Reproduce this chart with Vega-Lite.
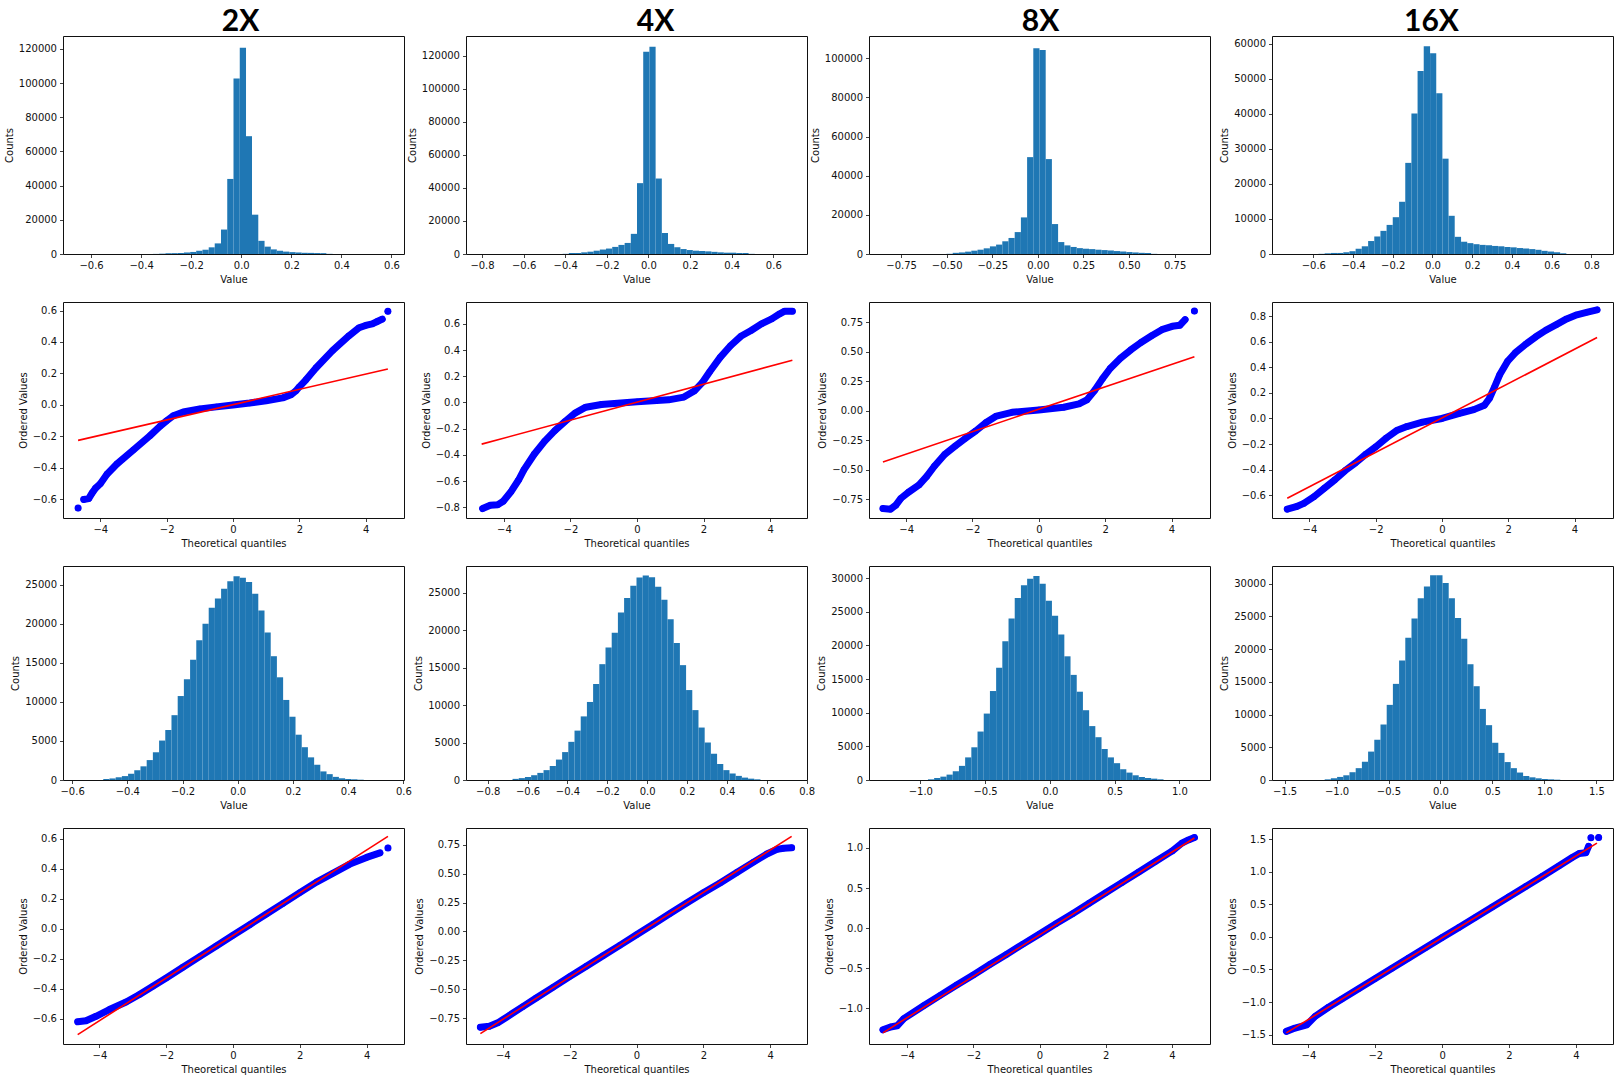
{
  "$schema": "https://vega.github.io/schema/vega-lite/v6.json",
  "background": "white",
  "padding": {"left": 3, "top": 6, "right": 5, "bottom": 5},
  "bounds": "flush",
  "columns": 4,
  "spacing": {"row": 48, "column": 62},
  "concat": [
    {"width": 341, "height": 218, "title": {"text": "2X", "dx": 7}, "data": {"name": "h1"},
     "mark": {"type": "rect", "color": "#1f77b4"},
     "encoding": {
       "x": {"field": "lo", "type": "quantitative", "scale": {"domain": [-0.712, 0.65], "nice": false, "zero": false}, "axis": {"title": "Value", "values": [-0.6, -0.4, -0.2, 0, 0.2, 0.4, 0.6], "format": ".1f"}},
       "x2": {"field": "hi"},
       "y": {"field": "n", "type": "quantitative", "scale": {"domain": [0, 127500], "nice": false}, "axis": {"title": "Counts", "values": [0, 20000, 40000, 60000, 80000, 100000, 120000], "format": "d"}},
       "y2": {"datum": 0}}},
    {"width": 341, "height": 218, "title": {"text": "4X", "dx": 19}, "data": {"name": "h2"},
     "mark": {"type": "rect", "color": "#1f77b4"},
     "encoding": {
       "x": {"field": "lo", "type": "quantitative", "scale": {"domain": [-0.877, 0.762], "nice": false, "zero": false}, "axis": {"title": "Value", "values": [-0.8, -0.6, -0.4, -0.2, 0, 0.2, 0.4, 0.6], "format": ".1f"}},
       "x2": {"field": "hi"},
       "y": {"field": "n", "type": "quantitative", "scale": {"domain": [0, 132000], "nice": false}, "axis": {"title": "Counts", "values": [0, 20000, 40000, 60000, 80000, 100000, 120000], "format": "d"}},
       "y2": {"datum": 0}}},
    {"width": 341, "height": 218, "title": {"text": "8X", "dx": 1}, "data": {"name": "h3"},
     "mark": {"type": "rect", "color": "#1f77b4"},
     "encoding": {
       "x": {"field": "lo", "type": "quantitative", "scale": {"domain": [-0.926, 0.944], "nice": false, "zero": false}, "axis": {"title": "Value", "values": [-0.75, -0.5, -0.25, 0, 0.25, 0.5, 0.75], "format": ".2f"}},
       "x2": {"field": "hi"},
       "y": {"field": "n", "type": "quantitative", "scale": {"domain": [0, 111400], "nice": false}, "axis": {"title": "Counts", "values": [0, 20000, 40000, 60000, 80000, 100000], "format": "d"}},
       "y2": {"datum": 0}}},
    {"width": 341, "height": 218, "title": {"text": "16X", "dx": -11}, "data": {"name": "h4"},
     "mark": {"type": "rect", "color": "#1f77b4"},
     "encoding": {
       "x": {"field": "lo", "type": "quantitative", "scale": {"domain": [-0.808, 0.909], "nice": false, "zero": false}, "axis": {"title": "Value", "values": [-0.6, -0.4, -0.2, 0, 0.2, 0.4, 0.6, 0.8], "format": ".1f"}},
       "x2": {"field": "hi"},
       "y": {"field": "n", "type": "quantitative", "scale": {"domain": [0, 62200], "nice": false}, "axis": {"title": "Counts", "values": [0, 10000, 20000, 30000, 40000, 50000, 60000], "format": "d"}},
       "y2": {"datum": 0}}},

    {"width": 341, "height": 216,
     "encoding": {
       "x": {"field": "tq", "type": "quantitative", "scale": {"domain": [-5.125, 5.156], "nice": false, "zero": false}, "axis": {"title": "Theoretical quantiles", "values": [-4, -2, 0, 2, 4], "format": "d"}},
       "y": {"field": "ov", "type": "quantitative", "scale": {"domain": [-0.718, 0.654], "nice": false, "zero": false}, "axis": {"title": "Ordered Values", "values": [-0.6, -0.4, -0.2, 0, 0.2, 0.4, 0.6], "format": ".1f"}}},
     "layer": [
       {"data": {"name": "q1"}, "mark": {"type": "line", "color": "#0000ff", "strokeWidth": 7, "strokeCap": "round", "strokeJoin": "round"}, "encoding": {"detail": {"field": "g", "type": "nominal"}}},
       {"data": {"name": "q1"}, "mark": {"type": "circle", "color": "#0000ff", "size": 40, "opacity": 1}, "encoding": {}},
       {"data": {"name": "f1"}, "mark": {"type": "line", "color": "#ff0000", "strokeWidth": 1.6}, "encoding": {}}
     ]},
    {"width": 341, "height": 216,
     "encoding": {
       "x": {"field": "tq", "type": "quantitative", "scale": {"domain": [-5.14, 5.11], "nice": false, "zero": false}, "axis": {"title": "Theoretical quantiles", "values": [-4, -2, 0, 2, 4], "format": "d"}},
       "y": {"field": "ov", "type": "quantitative", "scale": {"domain": [-0.882, 0.767], "nice": false, "zero": false}, "axis": {"title": "Ordered Values", "values": [-0.8, -0.6, -0.4, -0.2, 0, 0.2, 0.4, 0.6], "format": ".1f"}}},
     "layer": [
       {"data": {"name": "q2"}, "mark": {"type": "line", "color": "#0000ff", "strokeWidth": 7, "strokeCap": "round", "strokeJoin": "round"}, "encoding": {"detail": {"field": "g", "type": "nominal"}}},
       {"data": {"name": "q2"}, "mark": {"type": "circle", "color": "#0000ff", "size": 40, "opacity": 1}, "encoding": {}},
       {"data": {"name": "f2"}, "mark": {"type": "line", "color": "#ff0000", "strokeWidth": 1.6}, "encoding": {}}
     ]},
    {"width": 341, "height": 216,
     "encoding": {
       "x": {"field": "tq", "type": "quantitative", "scale": {"domain": [-5.12, 5.16], "nice": false, "zero": false}, "axis": {"title": "Theoretical quantiles", "values": [-4, -2, 0, 2, 4], "format": "d"}},
       "y": {"field": "ov", "type": "quantitative", "scale": {"domain": [-0.909, 0.92], "nice": false, "zero": false}, "axis": {"title": "Ordered Values", "values": [-0.75, -0.5, -0.25, 0, 0.25, 0.5, 0.75], "format": ".2f"}}},
     "layer": [
       {"data": {"name": "q3"}, "mark": {"type": "line", "color": "#0000ff", "strokeWidth": 7, "strokeCap": "round", "strokeJoin": "round"}, "encoding": {"detail": {"field": "g", "type": "nominal"}}},
       {"data": {"name": "q3"}, "mark": {"type": "circle", "color": "#0000ff", "size": 40, "opacity": 1}, "encoding": {}},
       {"data": {"name": "f3"}, "mark": {"type": "line", "color": "#ff0000", "strokeWidth": 1.6}, "encoding": {}}
     ]},
    {"width": 341, "height": 216,
     "encoding": {
       "x": {"field": "tq", "type": "quantitative", "scale": {"domain": [-5.13, 5.16], "nice": false, "zero": false}, "axis": {"title": "Theoretical quantiles", "values": [-4, -2, 0, 2, 4], "format": "d"}},
       "y": {"field": "ov", "type": "quantitative", "scale": {"domain": [-0.778, 0.91], "nice": false, "zero": false}, "axis": {"title": "Ordered Values", "values": [-0.6, -0.4, -0.2, 0, 0.2, 0.4, 0.6, 0.8], "format": ".1f"}}},
     "layer": [
       {"data": {"name": "q4"}, "mark": {"type": "line", "color": "#0000ff", "strokeWidth": 7, "strokeCap": "round", "strokeJoin": "round"}, "encoding": {"detail": {"field": "g", "type": "nominal"}}},
       {"data": {"name": "q4"}, "mark": {"type": "circle", "color": "#0000ff", "size": 40, "opacity": 1}, "encoding": {}},
       {"data": {"name": "f4"}, "mark": {"type": "line", "color": "#ff0000", "strokeWidth": 1.6}, "encoding": {}}
     ]},

    {"width": 341, "height": 214, "data": {"name": "h5"},
     "mark": {"type": "rect", "color": "#1f77b4"},
     "encoding": {
       "x": {"field": "lo", "type": "quantitative", "scale": {"domain": [-0.633, 0.602], "nice": false, "zero": false}, "axis": {"title": "Value", "values": [-0.6, -0.4, -0.2, 0, 0.2, 0.4, 0.6], "format": ".1f"}},
       "x2": {"field": "hi"},
       "y": {"field": "n", "type": "quantitative", "scale": {"domain": [0, 27400], "nice": false}, "axis": {"title": "Counts", "values": [0, 5000, 10000, 15000, 20000, 25000], "format": "d"}},
       "y2": {"datum": 0}}},
    {"width": 341, "height": 214, "data": {"name": "h6"},
     "mark": {"type": "rect", "color": "#1f77b4"},
     "encoding": {
       "x": {"field": "lo", "type": "quantitative", "scale": {"domain": [-0.909, 0.802], "nice": false, "zero": false}, "axis": {"title": "Value", "values": [-0.8, -0.6, -0.4, -0.2, 0, 0.2, 0.4, 0.6, 0.8], "format": ".1f"}},
       "x2": {"field": "hi"},
       "y": {"field": "n", "type": "quantitative", "scale": {"domain": [0, 28600], "nice": false}, "axis": {"title": "Counts", "values": [0, 5000, 10000, 15000, 20000, 25000], "format": "d"}},
       "y2": {"datum": 0}}},
    {"width": 341, "height": 214, "data": {"name": "h7"},
     "mark": {"type": "rect", "color": "#1f77b4"},
     "encoding": {
       "x": {"field": "lo", "type": "quantitative", "scale": {"domain": [-1.396, 1.236], "nice": false, "zero": false}, "axis": {"title": "Value", "values": [-1, -0.5, 0, 0.5, 1], "format": ".1f"}},
       "x2": {"field": "hi"},
       "y": {"field": "n", "type": "quantitative", "scale": {"domain": [0, 31800], "nice": false}, "axis": {"title": "Counts", "values": [0, 5000, 10000, 15000, 20000, 25000, 30000], "format": "d"}},
       "y2": {"datum": 0}}},
    {"width": 341, "height": 214, "data": {"name": "h8"},
     "mark": {"type": "rect", "color": "#1f77b4"},
     "encoding": {
       "x": {"field": "lo", "type": "quantitative", "scale": {"domain": [-1.621, 1.66], "nice": false, "zero": false}, "axis": {"title": "Value", "values": [-1.5, -1, -0.5, 0, 0.5, 1, 1.5], "format": ".1f"}},
       "x2": {"field": "hi"},
       "y": {"field": "n", "type": "quantitative", "scale": {"domain": [0, 32700], "nice": false}, "axis": {"title": "Counts", "values": [0, 5000, 10000, 15000, 20000, 25000, 30000], "format": "d"}},
       "y2": {"datum": 0}}},

    {"width": 341, "height": 216,
     "encoding": {
       "x": {"field": "tq", "type": "quantitative", "scale": {"domain": [-5.09, 5.12], "nice": false, "zero": false}, "axis": {"title": "Theoretical quantiles", "values": [-4, -2, 0, 2, 4], "format": "d"}},
       "y": {"field": "ov", "type": "quantitative", "scale": {"domain": [-0.77, 0.671], "nice": false, "zero": false}, "axis": {"title": "Ordered Values", "values": [-0.6, -0.4, -0.2, 0, 0.2, 0.4, 0.6], "format": ".1f"}}},
     "layer": [
       {"data": {"name": "q5"}, "mark": {"type": "line", "color": "#0000ff", "strokeWidth": 7, "strokeCap": "round", "strokeJoin": "round"}, "encoding": {"detail": {"field": "g", "type": "nominal"}}},
       {"data": {"name": "q5"}, "mark": {"type": "circle", "color": "#0000ff", "size": 40, "opacity": 1}, "encoding": {}},
       {"data": {"name": "f5"}, "mark": {"type": "line", "color": "#ff0000", "strokeWidth": 1.6}, "encoding": {}}
     ]},
    {"width": 341, "height": 216,
     "encoding": {
       "x": {"field": "tq", "type": "quantitative", "scale": {"domain": [-5.1, 5.1], "nice": false, "zero": false}, "axis": {"title": "Theoretical quantiles", "values": [-4, -2, 0, 2, 4], "format": "d"}},
       "y": {"field": "ov", "type": "quantitative", "scale": {"domain": [-0.973, 0.895], "nice": false, "zero": false}, "axis": {"title": "Ordered Values", "values": [-0.75, -0.5, -0.25, 0, 0.25, 0.5, 0.75], "format": ".2f"}}},
     "layer": [
       {"data": {"name": "q6"}, "mark": {"type": "line", "color": "#0000ff", "strokeWidth": 7, "strokeCap": "round", "strokeJoin": "round"}, "encoding": {"detail": {"field": "g", "type": "nominal"}}},
       {"data": {"name": "q6"}, "mark": {"type": "circle", "color": "#0000ff", "size": 40, "opacity": 1}, "encoding": {}},
       {"data": {"name": "f6"}, "mark": {"type": "line", "color": "#ff0000", "strokeWidth": 1.6}, "encoding": {}}
     ]},
    {"width": 341, "height": 216,
     "encoding": {
       "x": {"field": "tq", "type": "quantitative", "scale": {"domain": [-5.15, 5.15], "nice": false, "zero": false}, "axis": {"title": "Theoretical quantiles", "values": [-4, -2, 0, 2, 4], "format": "d"}},
       "y": {"field": "ov", "type": "quantitative", "scale": {"domain": [-1.447, 1.249], "nice": false, "zero": false}, "axis": {"title": "Ordered Values", "values": [-1, -0.5, 0, 0.5, 1], "format": ".1f"}}},
     "layer": [
       {"data": {"name": "q7"}, "mark": {"type": "line", "color": "#0000ff", "strokeWidth": 7, "strokeCap": "round", "strokeJoin": "round"}, "encoding": {"detail": {"field": "g", "type": "nominal"}}},
       {"data": {"name": "q7"}, "mark": {"type": "circle", "color": "#0000ff", "size": 40, "opacity": 1}, "encoding": {}},
       {"data": {"name": "f7"}, "mark": {"type": "line", "color": "#ff0000", "strokeWidth": 1.6}, "encoding": {}}
     ]},
    {"width": 341, "height": 216,
     "encoding": {
       "x": {"field": "tq", "type": "quantitative", "scale": {"domain": [-5.09, 5.11], "nice": false, "zero": false}, "axis": {"title": "Theoretical quantiles", "values": [-4, -2, 0, 2, 4], "format": "d"}},
       "y": {"field": "ov", "type": "quantitative", "scale": {"domain": [-1.644, 1.67], "nice": false, "zero": false}, "axis": {"title": "Ordered Values", "values": [-1.5, -1, -0.5, 0, 0.5, 1, 1.5], "format": ".1f"}}},
     "layer": [
       {"data": {"name": "q8"}, "mark": {"type": "line", "color": "#0000ff", "strokeWidth": 7, "strokeCap": "round", "strokeJoin": "round"}, "encoding": {"detail": {"field": "g", "type": "nominal"}}},
       {"data": {"name": "q8"}, "mark": {"type": "circle", "color": "#0000ff", "size": 40, "opacity": 1}, "encoding": {}},
       {"data": {"name": "f8"}, "mark": {"type": "line", "color": "#ff0000", "strokeWidth": 1.6}, "encoding": {}}
     ]}
  ],
  "datasets": {
    "h1": [
      {"lo": -0.353, "hi": -0.328, "n": 60}, {"lo": -0.328, "hi": -0.303, "n": 200}, {"lo": -0.303, "hi": -0.279, "n": 450},
      {"lo": -0.279, "hi": -0.254, "n": 500}, {"lo": -0.254, "hi": -0.229, "n": 600}, {"lo": -0.229, "hi": -0.204, "n": 900},
      {"lo": -0.204, "hi": -0.18, "n": 1200}, {"lo": -0.18, "hi": -0.155, "n": 1900}, {"lo": -0.155, "hi": -0.13, "n": 2500},
      {"lo": -0.13, "hi": -0.106, "n": 3900}, {"lo": -0.106, "hi": -0.081, "n": 6200}, {"lo": -0.081, "hi": -0.056, "n": 14300},
      {"lo": -0.056, "hi": -0.031, "n": 43900}, {"lo": -0.031, "hi": -0.006, "n": 102600}, {"lo": -0.006, "hi": 0.019, "n": 120700},
      {"lo": 0.019, "hi": 0.043, "n": 68900}, {"lo": 0.043, "hi": 0.068, "n": 23000}, {"lo": 0.068, "hi": 0.093, "n": 7700},
      {"lo": 0.093, "hi": 0.118, "n": 4300}, {"lo": 0.118, "hi": 0.142, "n": 2700}, {"lo": 0.142, "hi": 0.167, "n": 1900},
      {"lo": 0.167, "hi": 0.192, "n": 1400}, {"lo": 0.192, "hi": 0.217, "n": 1100}, {"lo": 0.217, "hi": 0.241, "n": 900},
      {"lo": 0.241, "hi": 0.266, "n": 700}, {"lo": 0.266, "hi": 0.291, "n": 650}, {"lo": 0.291, "hi": 0.316, "n": 550},
      {"lo": 0.316, "hi": 0.34, "n": 500}, {"lo": 0.34, "hi": 0.365, "n": 100}
    ],
    "h2": [
      {"lo": -0.4126, "hi": -0.3828, "n": 100}, {"lo": -0.3828, "hi": -0.353, "n": 600}, {"lo": -0.353, "hi": -0.3232, "n": 600},
      {"lo": -0.3232, "hi": -0.2934, "n": 1000}, {"lo": -0.2934, "hi": -0.2636, "n": 1400}, {"lo": -0.2636, "hi": -0.2338, "n": 2000},
      {"lo": -0.2338, "hi": -0.204, "n": 2700}, {"lo": -0.204, "hi": -0.1742, "n": 3300}, {"lo": -0.1742, "hi": -0.1444, "n": 4300},
      {"lo": -0.1444, "hi": -0.1146, "n": 5500}, {"lo": -0.1146, "hi": -0.0848, "n": 6700}, {"lo": -0.0848, "hi": -0.055, "n": 12200},
      {"lo": -0.055, "hi": -0.0252, "n": 42900}, {"lo": -0.0252, "hi": 0.0046, "n": 122400}, {"lo": 0.0046, "hi": 0.0344, "n": 125500},
      {"lo": 0.0344, "hi": 0.0642, "n": 45700}, {"lo": 0.0642, "hi": 0.094, "n": 12700}, {"lo": 0.094, "hi": 0.1238, "n": 6100},
      {"lo": 0.1238, "hi": 0.1536, "n": 4100}, {"lo": 0.1536, "hi": 0.1834, "n": 3000}, {"lo": 0.1834, "hi": 0.2132, "n": 2400},
      {"lo": 0.2132, "hi": 0.243, "n": 2000}, {"lo": 0.243, "hi": 0.2728, "n": 1800}, {"lo": 0.2728, "hi": 0.3026, "n": 1600},
      {"lo": 0.3026, "hi": 0.3324, "n": 1300}, {"lo": 0.3324, "hi": 0.3622, "n": 1000}, {"lo": 0.3622, "hi": 0.392, "n": 800},
      {"lo": 0.392, "hi": 0.4218, "n": 800}, {"lo": 0.4218, "hi": 0.4516, "n": 600}, {"lo": 0.4516, "hi": 0.4814, "n": 600},
      {"lo": 0.4814, "hi": 0.5112, "n": 100}
    ],
    "h3": [
      {"lo": -0.501, "hi": -0.467, "n": 100}, {"lo": -0.467, "hi": -0.433, "n": 600}, {"lo": -0.433, "hi": -0.399, "n": 800},
      {"lo": -0.399, "hi": -0.365, "n": 1200}, {"lo": -0.365, "hi": -0.331, "n": 1700}, {"lo": -0.331, "hi": -0.297, "n": 2200},
      {"lo": -0.297, "hi": -0.263, "n": 2900}, {"lo": -0.263, "hi": -0.229, "n": 3900}, {"lo": -0.229, "hi": -0.195, "n": 4800},
      {"lo": -0.195, "hi": -0.161, "n": 6500}, {"lo": -0.161, "hi": -0.127, "n": 8200}, {"lo": -0.127, "hi": -0.093, "n": 11200},
      {"lo": -0.093, "hi": -0.059, "n": 18700}, {"lo": -0.059, "hi": -0.025, "n": 49500}, {"lo": -0.025, "hi": 0.009, "n": 105100},
      {"lo": 0.009, "hi": 0.043, "n": 104300}, {"lo": 0.043, "hi": 0.077, "n": 48500}, {"lo": 0.077, "hi": 0.111, "n": 15300},
      {"lo": 0.111, "hi": 0.145, "n": 6100}, {"lo": 0.145, "hi": 0.179, "n": 4400}, {"lo": 0.179, "hi": 0.213, "n": 3600},
      {"lo": 0.213, "hi": 0.247, "n": 3000}, {"lo": 0.247, "hi": 0.281, "n": 2700}, {"lo": 0.281, "hi": 0.315, "n": 2500},
      {"lo": 0.315, "hi": 0.349, "n": 2200}, {"lo": 0.349, "hi": 0.383, "n": 2000}, {"lo": 0.383, "hi": 0.417, "n": 1800},
      {"lo": 0.417, "hi": 0.451, "n": 1500}, {"lo": 0.451, "hi": 0.485, "n": 1300}, {"lo": 0.485, "hi": 0.519, "n": 1000},
      {"lo": 0.519, "hi": 0.553, "n": 800}, {"lo": 0.553, "hi": 0.587, "n": 600}, {"lo": 0.587, "hi": 0.621, "n": 500},
      {"lo": 0.621, "hi": 0.655, "n": 80}
    ],
    "h4": [
      {"lo": -0.574, "hi": -0.543, "n": 50}, {"lo": -0.543, "hi": -0.512, "n": 200}, {"lo": -0.512, "hi": -0.48, "n": 300},
      {"lo": -0.48, "hi": -0.449, "n": 300}, {"lo": -0.449, "hi": -0.418, "n": 500}, {"lo": -0.418, "hi": -0.387, "n": 800},
      {"lo": -0.387, "hi": -0.356, "n": 1500}, {"lo": -0.356, "hi": -0.324, "n": 2200}, {"lo": -0.324, "hi": -0.293, "n": 3700},
      {"lo": -0.293, "hi": -0.262, "n": 5000}, {"lo": -0.262, "hi": -0.231, "n": 6600}, {"lo": -0.231, "hi": -0.2, "n": 8300},
      {"lo": -0.2, "hi": -0.168, "n": 10500}, {"lo": -0.168, "hi": -0.137, "n": 14900}, {"lo": -0.137, "hi": -0.106, "n": 26000},
      {"lo": -0.106, "hi": -0.075, "n": 40100}, {"lo": -0.075, "hi": -0.044, "n": 52200}, {"lo": -0.044, "hi": -0.012, "n": 59300},
      {"lo": -0.012, "hi": 0.019, "n": 57300}, {"lo": 0.019, "hi": 0.05, "n": 45900}, {"lo": 0.05, "hi": 0.081, "n": 27200},
      {"lo": 0.081, "hi": 0.112, "n": 10900}, {"lo": 0.112, "hi": 0.144, "n": 4900}, {"lo": 0.144, "hi": 0.175, "n": 3500},
      {"lo": 0.175, "hi": 0.206, "n": 3100}, {"lo": 0.206, "hi": 0.237, "n": 2800}, {"lo": 0.237, "hi": 0.268, "n": 2600},
      {"lo": 0.268, "hi": 0.3, "n": 2500}, {"lo": 0.3, "hi": 0.331, "n": 2300}, {"lo": 0.331, "hi": 0.362, "n": 2200},
      {"lo": 0.362, "hi": 0.393, "n": 2000}, {"lo": 0.393, "hi": 0.424, "n": 1900}, {"lo": 0.424, "hi": 0.456, "n": 1700},
      {"lo": 0.456, "hi": 0.487, "n": 1600}, {"lo": 0.487, "hi": 0.518, "n": 1400}, {"lo": 0.518, "hi": 0.549, "n": 1200},
      {"lo": 0.549, "hi": 0.58, "n": 900}, {"lo": 0.58, "hi": 0.612, "n": 700}, {"lo": 0.612, "hi": 0.643, "n": 500},
      {"lo": 0.643, "hi": 0.674, "n": 200}
    ],
    "h5": [
      {"lo": -0.4872, "hi": -0.4647, "n": 130}, {"lo": -0.4647, "hi": -0.4422, "n": 200}, {"lo": -0.4422, "hi": -0.4198, "n": 350},
      {"lo": -0.4198, "hi": -0.3973, "n": 500}, {"lo": -0.3973, "hi": -0.3749, "n": 800}, {"lo": -0.3749, "hi": -0.3524, "n": 1250},
      {"lo": -0.3524, "hi": -0.3299, "n": 1750}, {"lo": -0.3299, "hi": -0.3075, "n": 2550}, {"lo": -0.3075, "hi": -0.285, "n": 3550},
      {"lo": -0.285, "hi": -0.2626, "n": 5050}, {"lo": -0.2626, "hi": -0.2401, "n": 6400}, {"lo": -0.2401, "hi": -0.2176, "n": 8300},
      {"lo": -0.2176, "hi": -0.1952, "n": 10750}, {"lo": -0.1952, "hi": -0.1727, "n": 12900}, {"lo": -0.1727, "hi": -0.1503, "n": 15400},
      {"lo": -0.1503, "hi": -0.1278, "n": 17900}, {"lo": -0.1278, "hi": -0.1053, "n": 20000}, {"lo": -0.1053, "hi": -0.0829, "n": 22050},
      {"lo": -0.0829, "hi": -0.0604, "n": 23250}, {"lo": -0.0604, "hi": -0.038, "n": 24500}, {"lo": -0.038, "hi": -0.0155, "n": 25450},
      {"lo": -0.0155, "hi": 0.007, "n": 26100}, {"lo": 0.007, "hi": 0.0294, "n": 25900}, {"lo": 0.0294, "hi": 0.0519, "n": 25350},
      {"lo": 0.0519, "hi": 0.0743, "n": 23850}, {"lo": 0.0743, "hi": 0.0968, "n": 21700}, {"lo": 0.0968, "hi": 0.1193, "n": 18900},
      {"lo": 0.1193, "hi": 0.1417, "n": 15850}, {"lo": 0.1417, "hi": 0.1642, "n": 13150}, {"lo": 0.1642, "hi": 0.1866, "n": 10250},
      {"lo": 0.1866, "hi": 0.2091, "n": 8100}, {"lo": 0.2091, "hi": 0.2316, "n": 5800}, {"lo": 0.2316, "hi": 0.254, "n": 4200},
      {"lo": 0.254, "hi": 0.2765, "n": 2900}, {"lo": 0.2765, "hi": 0.2989, "n": 1950}, {"lo": 0.2989, "hi": 0.3214, "n": 1100},
      {"lo": 0.3214, "hi": 0.3439, "n": 750}, {"lo": 0.3439, "hi": 0.3663, "n": 400}, {"lo": 0.3663, "hi": 0.3888, "n": 220},
      {"lo": 0.3888, "hi": 0.4112, "n": 130}, {"lo": 0.4112, "hi": 0.4337, "n": 90}, {"lo": 0.4337, "hi": 0.4561, "n": 40}
    ],
    "h6": [
      {"lo": -0.6755, "hi": -0.6444, "n": 150}, {"lo": -0.6444, "hi": -0.6133, "n": 250}, {"lo": -0.6133, "hi": -0.5822, "n": 400},
      {"lo": -0.5822, "hi": -0.5511, "n": 640}, {"lo": -0.5511, "hi": -0.52, "n": 950}, {"lo": -0.52, "hi": -0.4889, "n": 1320},
      {"lo": -0.4889, "hi": -0.4578, "n": 1870}, {"lo": -0.4578, "hi": -0.4267, "n": 2730}, {"lo": -0.4267, "hi": -0.3956, "n": 3730},
      {"lo": -0.3956, "hi": -0.3645, "n": 5100}, {"lo": -0.3645, "hi": -0.3334, "n": 6600}, {"lo": -0.3334, "hi": -0.3023, "n": 8500},
      {"lo": -0.3023, "hi": -0.2712, "n": 10430}, {"lo": -0.2712, "hi": -0.2401, "n": 12840}, {"lo": -0.2401, "hi": -0.209, "n": 15480},
      {"lo": -0.209, "hi": -0.1779, "n": 17710}, {"lo": -0.1779, "hi": -0.1468, "n": 19670}, {"lo": -0.1468, "hi": -0.1157, "n": 22400},
      {"lo": -0.1157, "hi": -0.0846, "n": 24320}, {"lo": -0.0846, "hi": -0.0535, "n": 25960}, {"lo": -0.0535, "hi": -0.0224, "n": 27050},
      {"lo": -0.0224, "hi": 0.0087, "n": 27320}, {"lo": 0.0087, "hi": 0.0398, "n": 27100}, {"lo": 0.0398, "hi": 0.0709, "n": 25820},
      {"lo": 0.0709, "hi": 0.102, "n": 24090}, {"lo": 0.102, "hi": 0.1331, "n": 21500}, {"lo": 0.1331, "hi": 0.1642, "n": 18300},
      {"lo": 0.1642, "hi": 0.1953, "n": 15350}, {"lo": 0.1953, "hi": 0.2264, "n": 12020}, {"lo": 0.2264, "hi": 0.2575, "n": 9340},
      {"lo": 0.2575, "hi": 0.2886, "n": 7010}, {"lo": 0.2886, "hi": 0.3197, "n": 5010}, {"lo": 0.3197, "hi": 0.3508, "n": 3510},
      {"lo": 0.3508, "hi": 0.3819, "n": 2140}, {"lo": 0.3819, "hi": 0.413, "n": 1320}, {"lo": 0.413, "hi": 0.4441, "n": 870},
      {"lo": 0.4441, "hi": 0.4752, "n": 550}, {"lo": 0.4752, "hi": 0.5063, "n": 320}, {"lo": 0.5063, "hi": 0.5374, "n": 180},
      {"lo": 0.5374, "hi": 0.5685, "n": 90}
    ],
    "h7": [
      {"lo": -0.941, "hi": -0.8932, "n": 100}, {"lo": -0.8932, "hi": -0.8453, "n": 300}, {"lo": -0.8453, "hi": -0.7975, "n": 500},
      {"lo": -0.7975, "hi": -0.7496, "n": 800}, {"lo": -0.7496, "hi": -0.7018, "n": 1300}, {"lo": -0.7018, "hi": -0.654, "n": 2100},
      {"lo": -0.654, "hi": -0.6061, "n": 3360}, {"lo": -0.6061, "hi": -0.5583, "n": 4860}, {"lo": -0.5583, "hi": -0.5104, "n": 7200},
      {"lo": -0.5104, "hi": -0.4626, "n": 9870}, {"lo": -0.4626, "hi": -0.4147, "n": 13220}, {"lo": -0.4147, "hi": -0.3669, "n": 16680},
      {"lo": -0.3669, "hi": -0.319, "n": 20630}, {"lo": -0.319, "hi": -0.2712, "n": 23990}, {"lo": -0.2712, "hi": -0.2233, "n": 27040},
      {"lo": -0.2233, "hi": -0.1755, "n": 28950}, {"lo": -0.1755, "hi": -0.1276, "n": 29900}, {"lo": -0.1276, "hi": -0.0798, "n": 30300},
      {"lo": -0.0798, "hi": -0.0319, "n": 29150}, {"lo": -0.0319, "hi": 0.016, "n": 26640}, {"lo": 0.016, "hi": 0.0638, "n": 24390},
      {"lo": 0.0638, "hi": 0.1117, "n": 21630}, {"lo": 0.1117, "hi": 0.1595, "n": 18380}, {"lo": 0.1595, "hi": 0.2074, "n": 15620},
      {"lo": 0.2074, "hi": 0.2552, "n": 13120}, {"lo": 0.2552, "hi": 0.3031, "n": 10370}, {"lo": 0.3031, "hi": 0.3509, "n": 8010},
      {"lo": 0.3509, "hi": 0.3988, "n": 6360}, {"lo": 0.3988, "hi": 0.4466, "n": 4610}, {"lo": 0.4466, "hi": 0.4945, "n": 3360},
      {"lo": 0.4945, "hi": 0.5423, "n": 2500}, {"lo": 0.5423, "hi": 0.5902, "n": 1600}, {"lo": 0.5902, "hi": 0.638, "n": 1100},
      {"lo": 0.638, "hi": 0.6859, "n": 700}, {"lo": 0.6859, "hi": 0.7337, "n": 450}, {"lo": 0.7337, "hi": 0.7816, "n": 300},
      {"lo": 0.7816, "hi": 0.8294, "n": 200}, {"lo": 0.8294, "hi": 0.8773, "n": 100}
    ],
    "h8": [
      {"lo": -1.114, "hi": -1.0544, "n": 100}, {"lo": -1.0544, "hi": -0.9947, "n": 260}, {"lo": -0.9947, "hi": -0.9351, "n": 470},
      {"lo": -0.9351, "hi": -0.8754, "n": 720}, {"lo": -0.8754, "hi": -0.8157, "n": 1190}, {"lo": -0.8157, "hi": -0.7561, "n": 1810},
      {"lo": -0.7561, "hi": -0.6964, "n": 2790}, {"lo": -0.6964, "hi": -0.6368, "n": 4340}, {"lo": -0.6368, "hi": -0.5771, "n": 6150},
      {"lo": -0.5771, "hi": -0.5174, "n": 8480}, {"lo": -0.5174, "hi": -0.4578, "n": 11480}, {"lo": -0.4578, "hi": -0.3981, "n": 14690},
      {"lo": -0.3981, "hi": -0.3385, "n": 18260}, {"lo": -0.3385, "hi": -0.2788, "n": 21720}, {"lo": -0.2788, "hi": -0.2191, "n": 24670},
      {"lo": -0.2191, "hi": -0.1595, "n": 27770}, {"lo": -0.1595, "hi": -0.0998, "n": 29580}, {"lo": -0.0998, "hi": -0.0402, "n": 31290},
      {"lo": -0.0402, "hi": 0.0195, "n": 31290}, {"lo": 0.0195, "hi": 0.0792, "n": 30100}, {"lo": 0.0792, "hi": 0.1388, "n": 27770},
      {"lo": 0.1388, "hi": 0.1985, "n": 24770}, {"lo": 0.1985, "hi": 0.2581, "n": 21570}, {"lo": 0.2581, "hi": 0.3178, "n": 17690},
      {"lo": 0.3178, "hi": 0.3775, "n": 14330}, {"lo": 0.3775, "hi": 0.4371, "n": 10860}, {"lo": 0.4371, "hi": 0.4968, "n": 8380},
      {"lo": 0.4968, "hi": 0.5564, "n": 5690}, {"lo": 0.5564, "hi": 0.6161, "n": 4140}, {"lo": 0.6161, "hi": 0.6758, "n": 2740},
      {"lo": 0.6758, "hi": 0.7354, "n": 1810}, {"lo": 0.7354, "hi": 0.7951, "n": 1140}, {"lo": 0.7951, "hi": 0.8547, "n": 620},
      {"lo": 0.8547, "hi": 0.9144, "n": 410}, {"lo": 0.9144, "hi": 0.9741, "n": 260}, {"lo": 0.9741, "hi": 1.0337, "n": 150},
      {"lo": 1.0337, "hi": 1.0934, "n": 100}, {"lo": 1.0934, "hi": 1.153, "n": 50}
    ],
    "q1": [
      {"tq": -4.67, "ov": -0.655, "g": 1}, {"tq": -4.5, "ov": -0.6}, {"tq": -4.35, "ov": -0.595}, {"tq": -4.25, "ov": -0.56},
      {"tq": -4.15, "ov": -0.53}, {"tq": -4.0, "ov": -0.5}, {"tq": -3.8, "ov": -0.44}, {"tq": -3.5, "ov": -0.375},
      {"tq": -3.0, "ov": -0.285}, {"tq": -2.5, "ov": -0.195}, {"tq": -2.2, "ov": -0.135}, {"tq": -2.0, "ov": -0.1},
      {"tq": -1.8, "ov": -0.068}, {"tq": -1.5, "ov": -0.045}, {"tq": -1.0, "ov": -0.025}, {"tq": -0.5, "ov": -0.012},
      {"tq": 0, "ov": 0.0}, {"tq": 0.5, "ov": 0.012}, {"tq": 1.0, "ov": 0.027}, {"tq": 1.5, "ov": 0.045},
      {"tq": 1.75, "ov": 0.065}, {"tq": 1.9, "ov": 0.09}, {"tq": 2.0, "ov": 0.115}, {"tq": 2.2, "ov": 0.16},
      {"tq": 2.5, "ov": 0.235}, {"tq": 3.0, "ov": 0.345}, {"tq": 3.5, "ov": 0.44}, {"tq": 3.8, "ov": 0.49},
      {"tq": 4.0, "ov": 0.505}, {"tq": 4.2, "ov": 0.515}, {"tq": 4.35, "ov": 0.53}, {"tq": 4.5, "ov": 0.545},
      {"tq": 4.67, "ov": 0.595, "g": 2}
    ],
    "f1": [{"tq": -4.67, "ov": -0.225}, {"tq": 4.67, "ov": 0.229}],
    "q2": [
      {"tq": -4.64, "ov": -0.81}, {"tq": -4.41, "ov": -0.785}, {"tq": -4.18, "ov": -0.78}, {"tq": -4.02, "ov": -0.754},
      {"tq": -3.79, "ov": -0.682}, {"tq": -3.56, "ov": -0.592}, {"tq": -3.4, "ov": -0.515}, {"tq": -3.09, "ov": -0.395},
      {"tq": -2.78, "ov": -0.297}, {"tq": -2.47, "ov": -0.215}, {"tq": -2.16, "ov": -0.144}, {"tq": -1.85, "ov": -0.079},
      {"tq": -1.54, "ov": -0.036}, {"tq": -1.07, "ov": -0.015}, {"tq": 0, "ov": 0.005}, {"tq": 0.95, "ov": 0.02},
      {"tq": 1.41, "ov": 0.041}, {"tq": 1.72, "ov": 0.087}, {"tq": 1.96, "ov": 0.151}, {"tq": 2.19, "ov": 0.236},
      {"tq": 2.5, "ov": 0.344}, {"tq": 2.81, "ov": 0.433}, {"tq": 3.12, "ov": 0.505}, {"tq": 3.43, "ov": 0.549},
      {"tq": 3.74, "ov": 0.6}, {"tq": 4.05, "ov": 0.638}, {"tq": 4.29, "ov": 0.677}, {"tq": 4.44, "ov": 0.697},
      {"tq": 4.67, "ov": 0.697}
    ],
    "f2": [{"tq": -4.67, "ov": -0.318}, {"tq": 4.67, "ov": 0.323}],
    "q3": [
      {"tq": -4.7, "ov": -0.829}, {"tq": -4.47, "ov": -0.834}, {"tq": -4.31, "ov": -0.8}, {"tq": -4.16, "ov": -0.743},
      {"tq": -3.93, "ov": -0.691}, {"tq": -3.61, "ov": -0.629}, {"tq": -3.38, "ov": -0.557}, {"tq": -3.15, "ov": -0.471},
      {"tq": -2.84, "ov": -0.371}, {"tq": -2.52, "ov": -0.3}, {"tq": -2.21, "ov": -0.234}, {"tq": -1.9, "ov": -0.171},
      {"tq": -1.59, "ov": -0.1}, {"tq": -1.28, "ov": -0.046}, {"tq": -0.81, "ov": -0.014}, {"tq": 0, "ov": 0.006},
      {"tq": 0.75, "ov": 0.029}, {"tq": 1.21, "ov": 0.057}, {"tq": 1.45, "ov": 0.091}, {"tq": 1.68, "ov": 0.171},
      {"tq": 1.92, "ov": 0.271}, {"tq": 2.15, "ov": 0.357}, {"tq": 2.46, "ov": 0.443}, {"tq": 2.77, "ov": 0.514},
      {"tq": 3.08, "ov": 0.577}, {"tq": 3.4, "ov": 0.634}, {"tq": 3.71, "ov": 0.686}, {"tq": 4.02, "ov": 0.714},
      {"tq": 4.25, "ov": 0.723}, {"tq": 4.41, "ov": 0.771}, {"tq": 4.69, "ov": 0.843, "g": 2}
    ],
    "f3": [{"tq": -4.7, "ov": -0.434}, {"tq": 4.69, "ov": 0.457}],
    "q4": [
      {"tq": -4.67, "ov": -0.709}, {"tq": -4.4, "ov": -0.69}, {"tq": -4.17, "ov": -0.664}, {"tq": -3.86, "ov": -0.611},
      {"tq": -3.55, "ov": -0.545}, {"tq": -3.23, "ov": -0.479}, {"tq": -2.92, "ov": -0.407}, {"tq": -2.61, "ov": -0.347},
      {"tq": -2.3, "ov": -0.28}, {"tq": -1.99, "ov": -0.22}, {"tq": -1.68, "ov": -0.153}, {"tq": -1.37, "ov": -0.095},
      {"tq": -1.06, "ov": -0.063}, {"tq": -0.59, "ov": -0.029}, {"tq": 0, "ov": 0.0}, {"tq": 0.5, "ov": 0.037},
      {"tq": 0.96, "ov": 0.069}, {"tq": 1.28, "ov": 0.103}, {"tq": 1.43, "ov": 0.156}, {"tq": 1.59, "ov": 0.249},
      {"tq": 1.74, "ov": 0.341}, {"tq": 1.98, "ov": 0.447}, {"tq": 2.21, "ov": 0.513}, {"tq": 2.52, "ov": 0.579},
      {"tq": 2.83, "ov": 0.638}, {"tq": 3.14, "ov": 0.69}, {"tq": 3.45, "ov": 0.733}, {"tq": 3.76, "ov": 0.778},
      {"tq": 4.07, "ov": 0.81}, {"tq": 4.39, "ov": 0.831}, {"tq": 4.68, "ov": 0.849}
    ],
    "f4": [{"tq": -4.67, "ov": -0.624}, {"tq": 4.68, "ov": 0.632}],
    "q5": [
      {"tq": -4.65, "ov": -0.622}, {"tq": -4.4, "ov": -0.615}, {"tq": -4.1, "ov": -0.585}, {"tq": -3.7, "ov": -0.54},
      {"tq": -3.2, "ov": -0.49}, {"tq": -2.8, "ov": -0.44}, {"tq": -2.4, "ov": -0.385}, {"tq": -2.0, "ov": -0.33},
      {"tq": -1.5, "ov": -0.258}, {"tq": -1.0, "ov": -0.187}, {"tq": -0.5, "ov": -0.116}, {"tq": 0, "ov": -0.045},
      {"tq": 0.5, "ov": 0.026}, {"tq": 1.0, "ov": 0.097}, {"tq": 1.5, "ov": 0.168}, {"tq": 2.0, "ov": 0.24},
      {"tq": 2.5, "ov": 0.31}, {"tq": 3.0, "ov": 0.37}, {"tq": 3.5, "ov": 0.43}, {"tq": 4.0, "ov": 0.475},
      {"tq": 4.4, "ov": 0.505}, {"tq": 4.64, "ov": 0.538, "g": 2}
    ],
    "f5": [{"tq": -4.65, "ov": -0.707}, {"tq": 4.64, "ov": 0.615}],
    "q6": [
      {"tq": -4.67, "ov": -0.828}, {"tq": -4.4, "ov": -0.82}, {"tq": -4.15, "ov": -0.79}, {"tq": -3.8, "ov": -0.725},
      {"tq": -3.4, "ov": -0.65}, {"tq": -3.0, "ov": -0.575}, {"tq": -2.5, "ov": -0.483}, {"tq": -2.0, "ov": -0.39},
      {"tq": -1.5, "ov": -0.3}, {"tq": -1.0, "ov": -0.21}, {"tq": -0.5, "ov": -0.12}, {"tq": 0, "ov": -0.028},
      {"tq": 0.5, "ov": 0.063}, {"tq": 1.0, "ov": 0.155}, {"tq": 1.5, "ov": 0.246}, {"tq": 2.0, "ov": 0.335},
      {"tq": 2.5, "ov": 0.42}, {"tq": 3.0, "ov": 0.51}, {"tq": 3.5, "ov": 0.6}, {"tq": 3.9, "ov": 0.67},
      {"tq": 4.2, "ov": 0.71}, {"tq": 4.4, "ov": 0.72}, {"tq": 4.64, "ov": 0.724}
    ],
    "f6": [{"tq": -4.67, "ov": -0.883}, {"tq": 4.64, "ov": 0.822}],
    "q7": [
      {"tq": -4.73, "ov": -1.27}, {"tq": -4.5, "ov": -1.235}, {"tq": -4.3, "ov": -1.22}, {"tq": -4.1, "ov": -1.13},
      {"tq": -3.5, "ov": -0.97}, {"tq": -3.0, "ov": -0.84}, {"tq": -2.5, "ov": -0.71}, {"tq": -2.0, "ov": -0.585},
      {"tq": -1.5, "ov": -0.455}, {"tq": -1.0, "ov": -0.33}, {"tq": -0.5, "ov": -0.2}, {"tq": 0, "ov": -0.075},
      {"tq": 0.5, "ov": 0.055}, {"tq": 1.0, "ov": 0.18}, {"tq": 1.5, "ov": 0.31}, {"tq": 2.0, "ov": 0.44},
      {"tq": 2.5, "ov": 0.57}, {"tq": 3.0, "ov": 0.7}, {"tq": 3.5, "ov": 0.83}, {"tq": 4.0, "ov": 0.96},
      {"tq": 4.3, "ov": 1.06}, {"tq": 4.5, "ov": 1.1}, {"tq": 4.68, "ov": 1.13}
    ],
    "f7": [{"tq": -4.73, "ov": -1.308}, {"tq": 4.68, "ov": 1.124}],
    "q8": [
      {"tq": -4.66, "ov": -1.45}, {"tq": -4.4, "ov": -1.4}, {"tq": -4.05, "ov": -1.35}, {"tq": -3.8, "ov": -1.22},
      {"tq": -3.4, "ov": -1.08}, {"tq": -3.0, "ov": -0.955}, {"tq": -2.5, "ov": -0.797}, {"tq": -2.0, "ov": -0.64},
      {"tq": -1.5, "ov": -0.483}, {"tq": -1.0, "ov": -0.325}, {"tq": -0.5, "ov": -0.168}, {"tq": 0, "ov": -0.01},
      {"tq": 0.5, "ov": 0.145}, {"tq": 1.0, "ov": 0.3}, {"tq": 1.5, "ov": 0.458}, {"tq": 2.0, "ov": 0.615},
      {"tq": 2.5, "ov": 0.772}, {"tq": 3.0, "ov": 0.93}, {"tq": 3.5, "ov": 1.09}, {"tq": 3.9, "ov": 1.22},
      {"tq": 4.1, "ov": 1.28}, {"tq": 4.3, "ov": 1.29}, {"tq": 4.38, "ov": 1.39},
      {"tq": 4.45, "ov": 1.52, "g": 2}, {"tq": 4.68, "ov": 1.525, "g": 3}
    ],
    "f8": [{"tq": -4.66, "ov": -1.474}, {"tq": 4.63, "ov": 1.438}]
  },
  "config": {
    "font": "DejaVu Sans",
    "view": {"stroke": "#111111", "strokeWidth": 1},
    "axis": {
      "grid": false, "domain": false, "ticks": true,
      "tickColor": "#111111", "tickSize": 3.5, "tickWidth": 0.8,
      "labelFont": "DejaVu Sans", "labelFontSize": 10, "labelColor": "#111111", "labelPadding": 3,
      "labelFlush": false, "labelOverlap": false, "labelBound": false,
      "titleFont": "DejaVu Sans", "titleFontSize": 10, "titleFontWeight": "normal", "titleColor": "#111111", "titlePadding": 4
    },
    "title": {"font": "Lato", "fontSize": 30, "fontWeight": "bold", "color": "#000000", "offset": -1, "baseline": "alphabetic", "anchor": "middle"}
  }
}
